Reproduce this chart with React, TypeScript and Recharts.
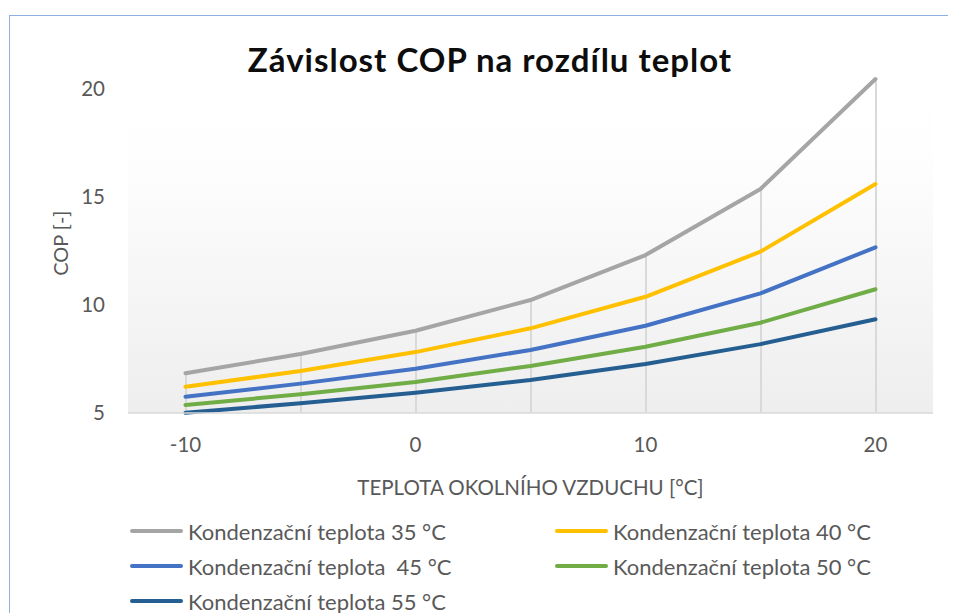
import React from 'react';
import { ComposedChart, Line, Bar, XAxis, YAxis, CartesianGrid, Legend, Label } from 'recharts';

const categories = ['-10', '-5', '0', '5', '10', '15', '20'];
const cop35 = [6.84, 7.73, 8.81, 10.23, 12.31, 15.37, 20.46];
const cop40 = [6.22, 6.94, 7.82, 8.92, 10.38, 12.47, 15.6];
const cop45 = [5.75, 6.36, 7.05, 7.92, 9.04, 10.54, 12.67];
const cop50 = [5.37, 5.87, 6.44, 7.18, 8.07, 9.18, 10.73];
const cop55 = [5.01, 5.45, 5.94, 6.53, 7.27, 8.19, 9.34];
const yTicks = [5, 10, 15, 20];
const shownXLabels = ['-10', '0', '10', '20'];

const seriesNames = [
  'Kondenzační teplota 35 °C',
  'Kondenzační teplota 40 °C',
  'Kondenzační teplota  45 °C',
  'Kondenzační teplota 50 °C',
  'Kondenzační teplota 55 °C',
];
const seriesKeys = ['c35', 'c40', 'c45', 'c50', 'c55'];
const seriesColors = ['#A5A5A5', '#FFC000', '#4472C4', '#70AD47', '#255E91'];
const seriesValues = [cop35, cop40, cop45, cop50, cop55];

const data = categories.map((t, i) => {
  const row: Record<string, any> = { t };
  seriesKeys.forEach((k, s) => {
    row[k] = seriesValues[s][i];
  });
  row.drop = Math.max(...seriesValues.map((v) => v[i]));
  return row;
});

const FONT = 'Lato, "Open Sans", sans-serif';
const TEXT = '#595959';

const XTick = (props: any) => {
  const { x, y, payload } = props;
  if (!shownXLabels.includes(payload.value)) return <g />;
  return (
    <text x={x} y={y + 39} textAnchor="middle" fill={TEXT} fontSize={20.5} fontFamily={FONT}>
      {payload.value}
    </text>
  );
};

const LegendContent = () => (
  <div
    style={{
      display: 'grid',
      gridTemplateColumns: '425px 400px',
      rowGap: 0,
      fontFamily: FONT,
      fontSize: 22,
      color: TEXT,
    }}
  >
    {seriesNames.map((n, i) => (
      <div key={n} style={{ display: 'flex', alignItems: 'center', height: 35, whiteSpace: 'pre' }}>
        <span
          style={{
            display: 'inline-block',
            flex: '0 0 auto',
            width: 53,
            height: 4,
            borderRadius: 2,
            background: seriesColors[i],
            marginRight: 5,
          }}
        />
        <span>{n}</span>
      </div>
    ))}
  </div>
);

export default function App() {
  return (
    <div style={{ position: 'relative', width: 948, height: 605, overflow: 'hidden', background: '#fff' }}>
      <div
        style={{
          position: 'absolute',
          left: 1,
          top: 7,
          width: 1200,
          height: 1000,
          borderTop: '1.5px solid #8CB1DE',
          borderLeft: '1.5px solid #8CB1DE',
          boxSizing: 'border-box',
        }}
      />
      <div
        style={{
          position: 'absolute',
          left: 8,
          width: 948,
          top: 35,
          textAlign: 'center',
          fontFamily: FONT,
          fontWeight: 700,
          fontSize: 33,
          letterSpacing: 1,
          lineHeight: '33px',
          color: '#0D0D0D',
          zIndex: 2,
        }}
      >
        Závislost COP na rozdílu teplot
      </div>
      <ComposedChart
        width={948}
        height={605}
        data={data}
        margin={{ top: 59.4, right: 23, bottom: 140, left: 20 }}
        style={{ position: 'absolute', left: 0, top: 0 }}
      >
        <defs>
          <linearGradient id="plotBg" x1="0" y1="0" x2="0" y2="1">
            <stop offset="0%" stopColor="#ffffff" />
            <stop offset="25%" stopColor="#fefefe" />
            <stop offset="100%" stopColor="#eeeeee" />
          </linearGradient>
        </defs>
        <CartesianGrid horizontal={false} vertical={false} fill="url(#plotBg)" stroke="none" />
        <XAxis
          dataKey="t"
          type="category"
          interval={0}
          height={60}
          tickSize={0}
          tickMargin={0}
          tickLine={false}
          axisLine={{ stroke: '#D9D9D9', strokeWidth: 1.5 }}
          tick={<XTick />}
        >
          <Label
            value="TEPLOTA OKOLNÍHO VZDUCHU [°C]"
            position="bottom"
            offset={7}
            fill={TEXT}
            fontSize={20.5}
            fontFamily={FONT}
          />
        </XAxis>
        <YAxis
          type="number"
          domain={[5, 21]}
          ticks={yTicks}
          width={100}
          axisLine={false}
          tickLine={false}
          tickSize={0}
          tickMargin={23}
          tick={{ fill: TEXT, fontSize: 20.5, fontFamily: FONT }}
        >
          <Label
            content={(props: any) => {
              const vb = props.viewBox || { x: 20, y: 59.4, width: 100, height: 345.6 };
              const cx = vb.x + 32;
              const cy = vb.y + vb.height / 2 + 3;
              return (
                <text
                  x={cx}
                  y={cy}
                  transform={`rotate(-90 ${cx} ${cy})`}
                  textAnchor="middle"
                  dominantBaseline="central"
                  fill={TEXT}
                  fontSize={20}
                  fontFamily={FONT}
                >
                  COP [-]
                </text>
              );
            }}
          />
        </YAxis>
        <Bar dataKey="drop" barSize={2} fill="#D9D9D9" isAnimationActive={false} legendType="none" />
        {seriesKeys.map((k, i) => (
          <Line
            key={k}
            dataKey={k}
            name={seriesNames[i]}
            stroke={seriesColors[i]}
            strokeWidth={4}
            strokeLinecap="round"
            strokeLinejoin="round"
            dot={false}
            activeDot={false}
            isAnimationActive={false}
          />
        ))}
        <Legend
          layout="vertical"
          align="center"
          verticalAlign="middle"
          content={<LegendContent />}
          wrapperStyle={{ position: 'absolute', left: 122, top: 505.5, width: 830 }}
        />
      </ComposedChart>
    </div>
  );
}
